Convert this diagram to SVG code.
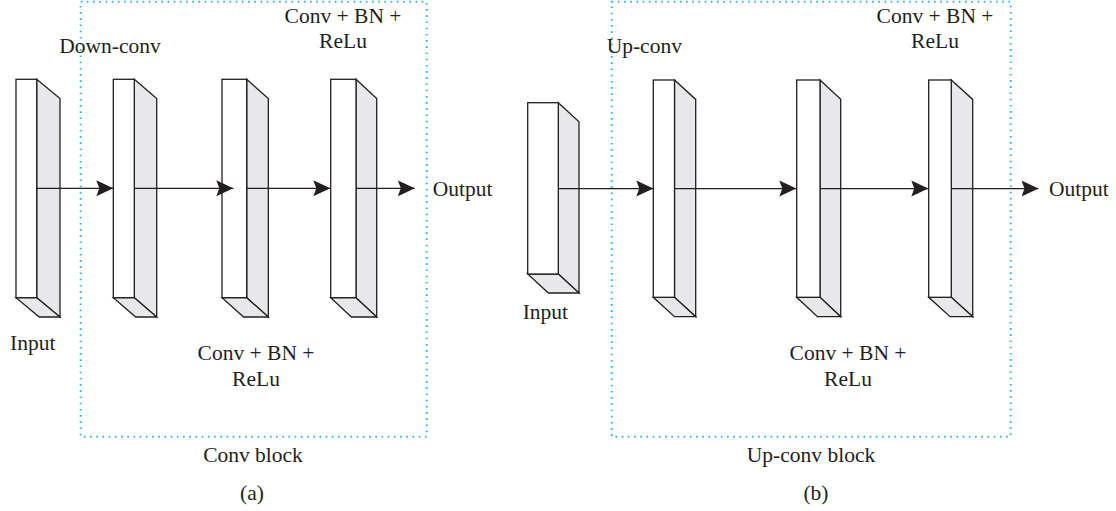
<svg xmlns="http://www.w3.org/2000/svg" width="1116" height="511" viewBox="0 0 1116 511">
<defs>
<style>
.front{fill:#ffffff;stroke:#231f20;stroke-width:1.3;stroke-linejoin:miter}
.side{fill:#e8e8ea;stroke:#231f20;stroke-width:1.3;stroke-linejoin:miter}
.frame{fill:none;stroke:#29b5e8;stroke-width:2;stroke-dasharray:1.6 4.6;stroke-linecap:butt}
.conn{fill:none;stroke:#231f20;stroke-width:1.3}
text{font-family:"Liberation Serif","Times New Roman",serif;font-size:21.5px;fill:#231f20}
.c{text-anchor:middle}
</style>
<marker id="arr" markerUnits="userSpaceOnUse" markerWidth="20" markerHeight="18" refX="17" refY="8.5" orient="auto">
<path d="M17,8.5 L0,0.5 L3,8.5 L0,16.5 Z" fill="#231f20"/>
</marker>
</defs>
<rect width="1116" height="511" fill="#ffffff"/>

<g id="frame-a"><rect class="frame" x="80.7" y="1.7" width="346" height="435"/></g>
<g id="frame-b"><rect class="frame" x="611.7" y="1.7" width="399" height="435"/></g>

<g id="a-input">
<polygon class="side" points="36.7,79.3 60,98.6 60,317 36.7,297.7"/>
<polygon class="side" points="16,297.7 36.7,297.7 60,317 39.3,317"/>
<rect class="front" x="16" y="79.3" width="20.7" height="218.4"/>
</g>
<g id="a-block1">
<polygon class="side" points="134.3,79.3 156.7,98.6 156.7,317 134.3,297.7"/>
<polygon class="side" points="113.3,297.7 134.3,297.7 156.7,317 135.7,317"/>
<rect class="front" x="113.3" y="79.3" width="21" height="218.4"/>
</g>
<g id="a-block2">
<polygon class="side" points="246.7,79.3 268.3,98.6 268.3,317 246.7,297.7"/>
<polygon class="side" points="222,297.7 246.7,297.7 268.3,317 243.6,317"/>
<rect class="front" x="222" y="79.3" width="24.7" height="218.4"/>
</g>
<g id="a-block3">
<polygon class="side" points="356,79.3 376.7,98.6 376.7,317 356,297.7"/>
<polygon class="side" points="330.7,297.7 356,297.7 376.7,317 351.4,317"/>
<rect class="front" x="330.7" y="79.3" width="25.3" height="218.4"/>
</g>

<g id="b-input">
<polygon class="side" points="558.3,102.7 579,121.7 579,293 558.3,274"/>
<polygon class="side" points="527.7,274 558.3,274 579,293 548.4,293"/>
<rect class="front" x="527.7" y="102.7" width="30.6" height="171.3"/>
</g>
<g id="b-block1">
<polygon class="side" points="674.5,80 695.7,99.4 695.7,316.7 674.5,297.3"/>
<polygon class="side" points="653.3,297.3 674.5,297.3 695.7,316.7 674.5,316.7"/>
<rect class="front" x="653.3" y="80" width="21.2" height="217.3"/>
</g>
<g id="b-block2">
<polygon class="side" points="820,80 840.7,99.4 840.7,316.7 820,297.3"/>
<polygon class="side" points="796.7,297.3 820,297.3 840.7,316.7 817.4,316.7"/>
<rect class="front" x="796.7" y="80" width="23.3" height="217.3"/>
</g>
<g id="b-block3">
<polygon class="side" points="951.3,80 972.7,99.4 972.7,316.7 951.3,297.3"/>
<polygon class="side" points="928.7,297.3 951.3,297.3 972.7,316.7 950.1,316.7"/>
<rect class="front" x="928.7" y="80" width="22.6" height="217.3"/>
</g>

<g id="connectors">
<line class="conn" x1="36.7" y1="188.3" x2="113.3" y2="188.3" marker-end="url(#arr)"/>
<line class="conn" x1="134.3" y1="188.3" x2="233.3" y2="188.3" marker-end="url(#arr)"/>
<line class="conn" x1="246.7" y1="188.3" x2="330.3" y2="188.3" marker-end="url(#arr)"/>
<line class="conn" x1="356" y1="188.3" x2="414.8" y2="188.3" marker-end="url(#arr)"/>
<line class="conn" x1="558.3" y1="188.6" x2="653.3" y2="188.6" marker-end="url(#arr)"/>
<line class="conn" x1="674.5" y1="188.6" x2="796.3" y2="188.6" marker-end="url(#arr)"/>
<line class="conn" x1="820" y1="188.6" x2="928.3" y2="188.6" marker-end="url(#arr)"/>
<line class="conn" x1="951.3" y1="188.6" x2="1038.5" y2="188.6" marker-end="url(#arr)"/>
</g>

<g id="labels-a">
<text x="59.3" y="52.7">Down-conv</text>
<text class="c" x="343" y="22.7">Conv + BN +</text>
<text class="c" x="343" y="47.7">ReLu</text>
<text x="432.7" y="196">Output</text>
<text x="10" y="350">Input</text>
<text class="c" x="256" y="360">Conv + BN +</text>
<text class="c" x="256" y="386">ReLu</text>
<text class="c" x="253" y="461.7">Conv block</text>
<text class="c" x="252" y="500">(a)</text>
</g>
<g id="labels-b">
<text x="606.7" y="52.7">Up-conv</text>
<text class="c" x="935" y="22.7">Conv + BN +</text>
<text class="c" x="935" y="47.7">ReLu</text>
<text x="1049" y="196">Output</text>
<text x="522.7" y="319.3">Input</text>
<text class="c" x="848" y="360">Conv + BN +</text>
<text class="c" x="848" y="386">ReLu</text>
<text class="c" x="811" y="461.7">Up-conv block</text>
<text class="c" x="816" y="500">(b)</text>
</g>
</svg>
